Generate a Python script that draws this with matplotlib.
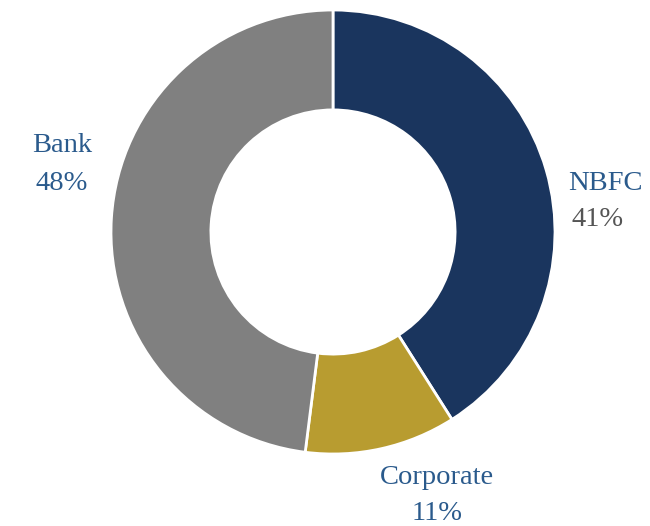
import matplotlib.pyplot as plt

labels = ['NBFC', 'Corporate', 'Bank']
shares = [41, 11, 48]
colors = ['#1a355e', '#b89c30', '#808080']
label_colors = ['#2a5a8c', '#2a5a8c', '#2a5a8c']
pct_colors = ['#555555', '#2a5a8c', '#2a5a8c']

plt.rcParams['font.family'] = ['Liberation Serif', 'DejaVu Serif']

fig = plt.figure(figsize=(6.5, 5.26), dpi=100)
ax = fig.add_axes([0, 0, 1, 1])

ax.pie(shares, colors=colors, startangle=90, counterclock=False,
       radius=1.0, wedgeprops=dict(width=0.45, edgecolor='white', linewidth=2))

# label spots in data units (radius 1 = 222 px)
spots = [(1.225, 0.22, 1.19, 0.055),
         (0.47, -1.105, 0.47, -1.27),
         (-1.22, 0.39, -1.22, 0.22)]

for lab, val, (x1, y1, x2, y2), lc, pc in zip(labels, shares, spots, label_colors, pct_colors):
    ax.text(x1, y1, lab, ha='center', va='center', fontsize=20.5, color=lc)
    ax.text(x2, y2, f'{val}%', ha='center', va='center', fontsize=20.5, color=pc)

ax.set_xlim(-333 / 222, 317 / 222)
ax.set_ylim(-294 / 222, 232 / 222)
ax.set_aspect('equal')
ax.axis('off')

fig.savefig('out.png', dpi=100)
